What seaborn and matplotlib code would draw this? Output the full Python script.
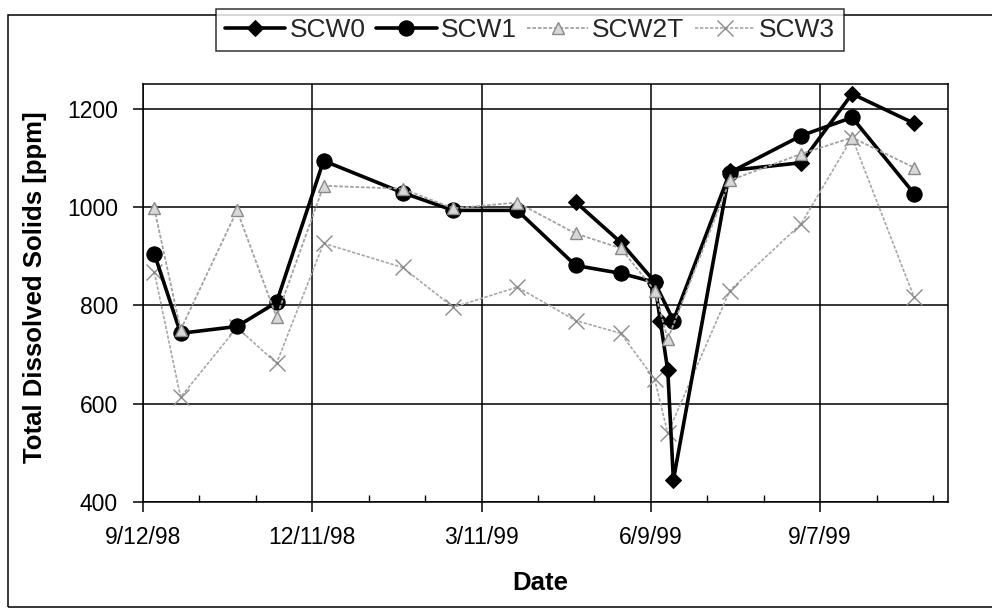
import matplotlib
matplotlib.use("Agg")
import matplotlib.pyplot as plt
import matplotlib.dates as mdates
from matplotlib.patches import Rectangle
import pandas as pd
import seaborn as sns

# Sampling dates and total dissolved solids [ppm] per well
scw0_dates = ["1999-04-30", "1999-05-24", "1999-06-11", "1999-06-14", "1999-06-18",
              "1999-06-21", "1999-07-21", "1999-08-28", "1999-09-24", "1999-10-27"]
scw0_tds = [1010, 928, 848, 769, 668, 445, 1074, 1090, 1230, 1170]

scw1_dates = ["1998-09-18", "1998-10-02", "1998-11-01", "1998-11-22", "1998-12-17",
              "1999-01-28", "1999-02-24", "1999-03-30", "1999-04-30", "1999-05-24",
              "1999-06-11", "1999-06-21", "1999-07-21", "1999-08-28", "1999-09-24",
              "1999-10-27"]
scw1_tds = [905, 743, 757, 806, 1094, 1029, 993, 993, 881, 865, 847, 769, 1070, 1145, 1182, 1027]

scw2t_dates = ["1998-09-18", "1998-10-02", "1998-11-01", "1998-11-22", "1998-12-17",
               "1999-01-28", "1999-02-24", "1999-03-30", "1999-04-30", "1999-05-24",
               "1999-06-11", "1999-06-18", "1999-07-21", "1999-08-28", "1999-09-24",
               "1999-10-27"]
scw2t_tds = [997, 750, 993, 776, 1043, 1037, 997, 1009, 946, 916, 830, 731, 1054, 1108, 1141, 1080]

scw3_dates = ["1998-09-18", "1998-10-02", "1998-11-01", "1998-11-22", "1998-12-17",
              "1999-01-28", "1999-02-24", "1999-03-30", "1999-04-30", "1999-05-24",
              "1999-06-11", "1999-06-18", "1999-07-21", "1999-08-28", "1999-09-24",
              "1999-10-27"]
scw3_tds = [868, 613, 755, 682, 926, 877, 796, 837, 769, 743, 650, 540, 830, 966, 1141, 816]

x_tick_labels = ["9/12/98", "12/11/98", "3/11/99", "6/9/99", "9/7/99"]
y_ticks = [400, 600, 800, 1000, 1200]

sns.set_theme(style="white")
plt.rcParams["font.family"] = ["Liberation Sans", "DejaVu Sans"]

W, H = 992, 610
ax_l, ax_r, ax_t, ax_b = 143, 948, 84, 502

fig = plt.figure(figsize=(W / 100, H / 100), dpi=100)
ax = fig.add_axes([ax_l / W, 1 - ax_b / H, (ax_r - ax_l) / W, (ax_b - ax_t) / H])

series = [
    ("SCW0", scw0_dates, scw0_tds,
     dict(color="black", linewidth=2.6, marker="D", markersize=8,
          markerfacecolor="black", markeredgecolor="black", zorder=4)),
    ("SCW1", scw1_dates, scw1_tds,
     dict(color="black", linewidth=2.6, marker="o", markersize=11,
          markerfacecolor="black", markeredgecolor="black", zorder=3)),
    ("SCW2T", scw2t_dates, scw2t_tds,
     dict(color="#a2a2a2", linewidth=1.3, linestyle=(0, (2, 1)), marker="^",
          markersize=9, markerfacecolor="#d8d8d8", markeredgecolor="#8a8a8a",
          markeredgewidth=1.0, zorder=5)),
    ("SCW3", scw3_dates, scw3_tds,
     dict(color="#a8a8a8", linewidth=1.2, linestyle=(0, (2, 1)), marker="x",
          markersize=11, markeredgecolor="#8c8c8c", markeredgewidth=1.0, zorder=2)),
]

for name, dates, values, style in series:
    df = pd.DataFrame({"Date": pd.to_datetime(dates), "TDS": values})
    sns.lineplot(data=df, x="Date", y="TDS", ax=ax, label=name, sort=False,
                 errorbar=None, **style)

start = pd.Timestamp("1998-09-12")
end = pd.Timestamp("1999-11-14")
ax.set_xlim(mdates.date2num(start), mdates.date2num(end))
major = [mdates.date2num(start + pd.Timedelta(days=90 * k)) for k in range(len(x_tick_labels))]
minor = [mdates.date2num(start + pd.Timedelta(days=30 * k)) for k in range(15)]
ax.set_xticks(major)
ax.set_xticklabels(x_tick_labels)
ax.set_xticks(minor, minor=True)
ax.set_ylim(400, 1250)
ax.set_yticks(y_ticks)
ax.set_yticklabels([str(v) for v in y_ticks])

ax.grid(True, which="major", color="black", linewidth=1.1)
ax.set_axisbelow(True)
for sp in ax.spines.values():
    sp.set_visible(True)
    sp.set_color("black")
    sp.set_linewidth(1.1)

ax.tick_params(axis="both", which="major", direction="out", length=7, width=1.1,
               color="black", labelsize=16.5, labelcolor="black")
ax.tick_params(axis="x", which="major", pad=10, bottom=True)
ax.tick_params(axis="y", which="major", pad=11, left=True)
ax.tick_params(axis="x", which="minor", direction="in", length=5, width=1.0,
               color="black", bottom=True)

ax.set_xlabel("Date", fontsize=18.5, fontweight="bold", color="black")
ax.set_ylabel("Total Dissolved Solids [ppm]", fontsize=18.5, fontweight="bold",
              color="black")
ax.xaxis.set_label_coords((540 - ax_l) / (ax_r - ax_l), -(571 - ax_b) / (ax_b - ax_t))
ax.yaxis.set_label_coords(-(ax_l - 47) / (ax_r - ax_l), 0.5 + (293 - 287) / (ax_b - ax_t))

handles, labels = ax.get_legend_handles_labels()
if ax.get_legend() is not None:
    ax.get_legend().remove()
leg = fig.legend(handles, labels, loc="upper center", bbox_to_anchor=(530 / W, 1 - 9 / H),
                 ncol=4, fontsize=19, frameon=True, fancybox=False, edgecolor="black",
                 handlelength=2.3, handletextpad=0.15, columnspacing=0.4,
                 borderpad=0.35, borderaxespad=0)
leg.get_frame().set_linewidth(1.1)

# Outer chart border
fig.patches.append(Rectangle((8 / W, 3 / H), 1.2, (607 - 15) / H,
                             transform=fig.transFigure, fill=False,
                             edgecolor="black", linewidth=1.1, zorder=0))

fig.savefig("out.png", dpi=100)
